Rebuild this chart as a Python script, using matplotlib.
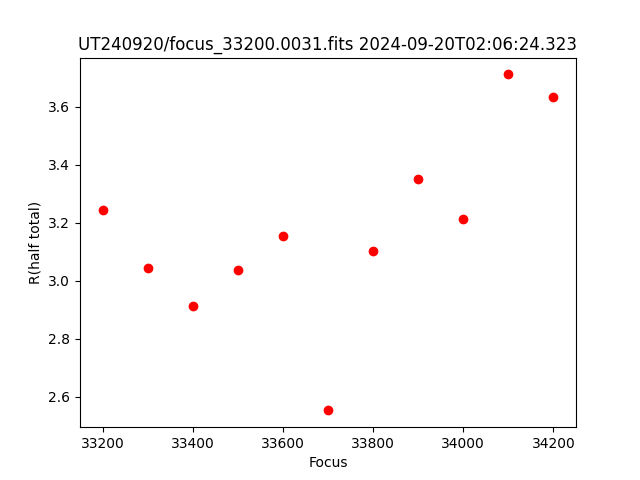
import matplotlib
matplotlib.use('Agg')
from matplotlib import pyplot as plt

focus = [33200, 33300, 33400, 33500, 33600, 33700, 33800, 33900, 34000, 34100, 34200]
r_half = [3.242, 3.043, 2.913, 3.036, 3.153, 2.553, 3.101, 3.349, 3.211, 3.711, 3.632]

fig, ax = plt.subplots(figsize=(6.4, 4.8), dpi=100)
ax.plot(focus, r_half, 'ro')
ax.set_xlabel('Focus')
ax.set_ylabel('R(half total)')
ax.set_title('UT240920/focus_33200.0031.fits 2024-09-20T02:06:24.323')

plt.savefig('out.png', dpi=100)
